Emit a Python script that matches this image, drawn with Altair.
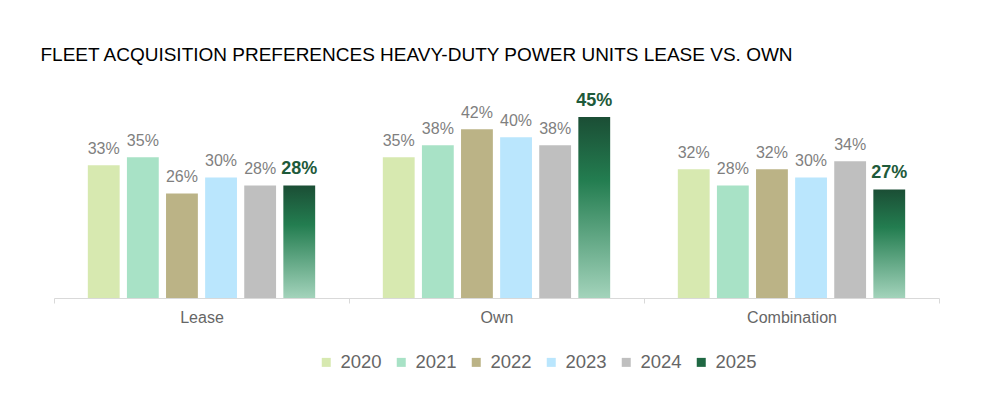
import altair as alt
import pandas as pd

categories = ["Lease", "Own", "Combination"]
years = ["2020", "2021", "2022", "2023", "2024", "2025"]
lease = [33, 35, 26, 30, 28, 28]
own = [35, 38, 42, 40, 38, 45]
combination = [32, 28, 32, 30, 34, 27]
colors = ["#d7e9b0", "#a8e2c6", "#bbb386", "#bae6fd", "#bfbfbf", "#1f6843"]

rows = []
for cat, vals in zip(categories, [lease, own, combination]):
    for y, v in zip(years, vals):
        rows.append({"cat": cat, "year": y, "value": v, "label": f"{v}%"})
df = pd.DataFrame(rows)

x = alt.X("cat:N", sort=categories, title=None,
          scale=alt.Scale(paddingInner=0, paddingOuter=0),
          axis=alt.Axis(labelAngle=0, labelFontSize=16, labelColor="#666666",
                        labelFont="Liberation Sans", domainColor="#d9d9d9",
                        tickColor="#d9d9d9", tickSize=5, tickBand="extent",
                        labelPadding=6))
xo = alt.XOffset("year:N", scale=alt.Scale(domain=years, paddingInner=0.186, paddingOuter=0.865))
y = alt.Y("value:Q", scale=alt.Scale(domain=[0, 50]), axis=None)

base = alt.Chart(df)

bars = base.transform_filter(alt.datum.year != "2025").mark_bar().encode(
    x=x, xOffset=xo, y=y,
    color=alt.Color("year:N", scale=alt.Scale(domain=years, range=colors),
                    legend=alt.Legend(title=None, orient="none", direction="horizontal",
                                      legendX=263, legendY=256,
                                      symbolType="square", symbolSize=81,
                                      symbolStrokeWidth=0, labelFontSize=18.5,
                                      labelColor="#666666", labelFont="Liberation Sans",
                                      labelOffset=5, columnPadding=10)),
)

grad = alt.Gradient(
    gradient="linear", x1=0, x2=0, y1=0, y2=1,
    stops=[alt.GradientStop(offset=0, color="#1b4e35"),
           alt.GradientStop(offset=0.35, color="#237d50"),
           alt.GradientStop(offset=1, color="#a3d3bb")],
)
bars25 = base.transform_filter(alt.datum.year == "2025").mark_bar(fill=grad).encode(
    x=x, xOffset=xo, y=y,
)

labels = base.transform_filter(alt.datum.year != "2025").mark_text(
    baseline="alphabetic", dy=-11, fontSize=16, color="#7f7f7f", font="Liberation Sans"
).encode(x=x, xOffset=xo, y=y, text="label:N")

labels25 = base.transform_filter(alt.datum.year == "2025").mark_text(
    baseline="alphabetic", dy=-11, fontSize=18, fontWeight="bold", color="#1e5a3a",
    font="Liberation Sans"
).encode(x=x, xOffset=xo, y=y, text="label:N")

chart = alt.layer(bars, bars25, labels, labels25).properties(
    width=885, height=201,
    title=alt.TitleParams("FLEET ACQUISITION PREFERENCES HEAVY-DUTY POWER UNITS LEASE VS. OWN",
                          anchor="start", fontSize=19, fontWeight="normal", color="#000000",
                          font="Liberation Sans", dx=-13, offset=12, baseline="alphabetic"),
    padding={"left": 32, "top": 38, "right": 20, "bottom": 10},
).configure_view(stroke=None)

chart.save("out.html", embed_options={"renderer": "svg", "actions": False})
